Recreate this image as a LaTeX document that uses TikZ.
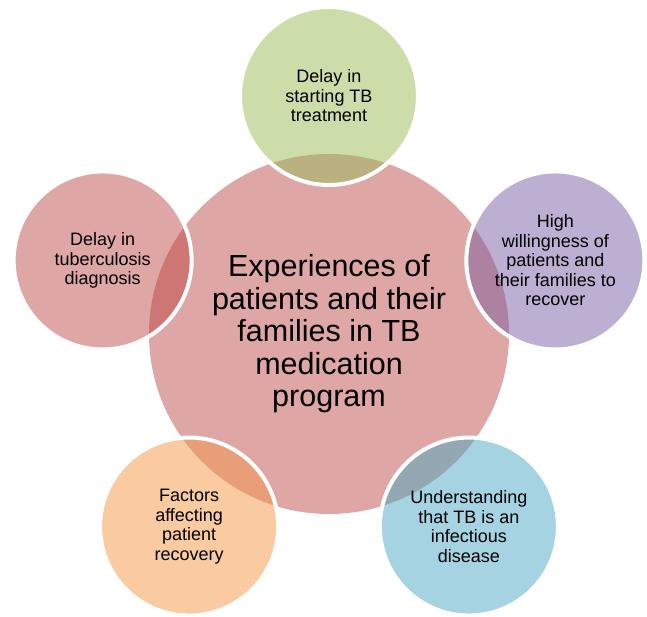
\documentclass[tikz,border=0pt]{standalone}
\usepackage{fontspec}
\setmainfont{Liberation Sans}
\definecolor{hubpink}{HTML}{DFA6A6}
\definecolor{treatlight}{HTML}{CDDDAA}
\definecolor{treatdeep}{HTML}{BBB07F}
\definecolor{recoverlight}{HTML}{BDAFD1}
\definecolor{recoverdeep}{HTML}{AC82A0}
\definecolor{infectlight}{HTML}{A6D3E1}
\definecolor{infectdeep}{HTML}{93A8B2}
\definecolor{factorlight}{HTML}{FACAA0}
\definecolor{factordeep}{HTML}{E89E76}
\definecolor{diaglight}{HTML}{DFA6A6}
\definecolor{diagdeep}{HTML}{CE7674}
\tikzset{
  hub/.style={circle,minimum size=360pt,inner sep=0pt,align=center,font=\fontsize{30.5}{32.5}\selectfont},
  sat/.style={circle,minimum size=178pt,inner sep=0pt,align=center,draw=white,line width=4pt,font=\fontsize{18}{19.5}\selectfont},
}
\begin{document}
\begin{tikzpicture}[x=1pt,y=1pt]
        \useasboundingbox (0,0) rectangle (647,616);
        \coordinate (c) at (329,282);
        \foreach \n/\a in {treat/90,recover/18,infect/-54,factor/-126,diag/162}
            \coordinate (\n) at ([shift={(\a:238)}]c);

        \fill[hubpink] (c) circle (180);
        \foreach \n in {treat,recover,infect,factor,diag}{
            \fill[\n light] (\n) circle (89);
            \begin{scope}
                \clip (\n) circle (89);
                \fill[\n deep] (c) circle (180);
            \end{scope}
        }

        \node[hub] (hub) at (c) {Experiences of\\patients and their\\families in TB\\medication\\program};
        \node[sat] (treatment) at (treat) {Delay in\\starting TB\\treatment};
        \node[sat] (willingness) at (recover) {High\\willingness of\\patients and\\their families to\\recover};
        \node[sat] (understanding) at (infect) {Understanding\\that TB is an\\infectious\\disease};
        \node[sat] (factors) at (factor) {Factors\\affecting\\patient\\recovery};
        \node[sat] (diagnosis) at (diag) {Delay in\\tuberculosis\\diagnosis};

    \end{tikzpicture}
\end{document}
